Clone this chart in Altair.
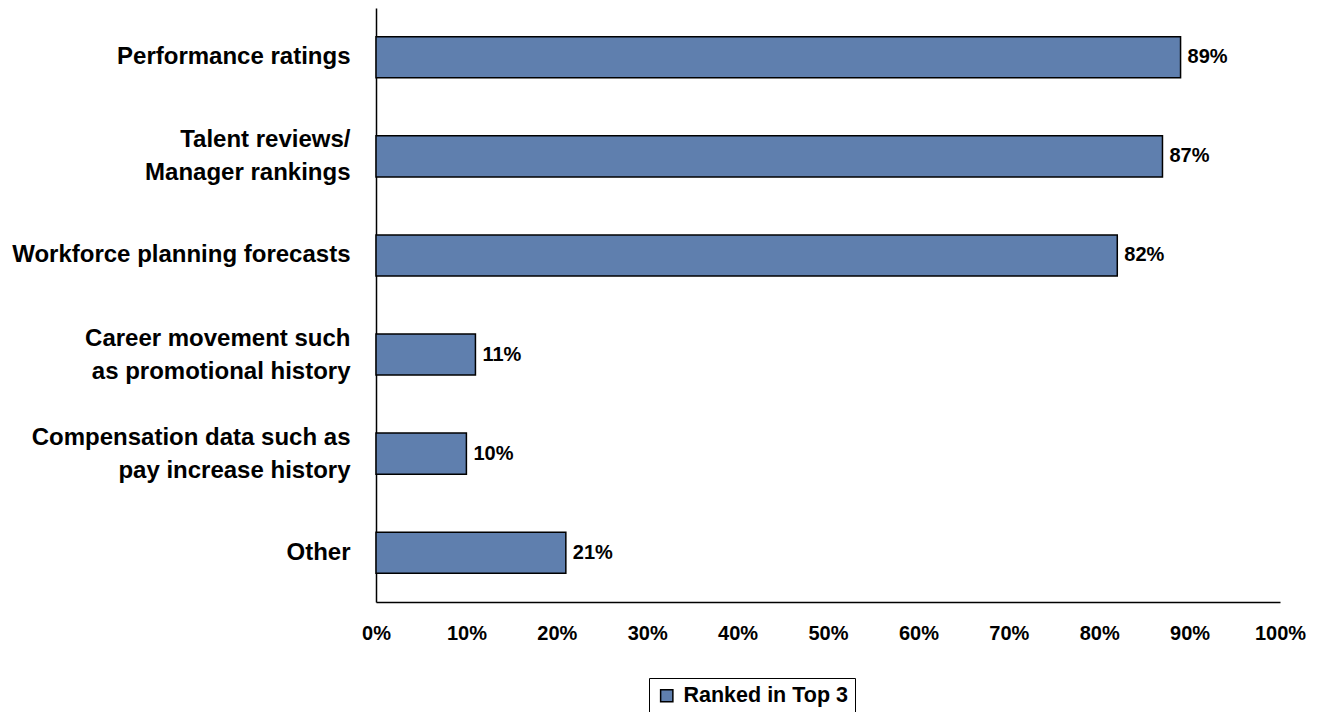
import altair as alt
import pandas as pd

categories = [
    "Performance ratings",
    "Talent reviews/|Manager rankings",
    "Workforce planning forecasts",
    "Career movement such|as promotional history",
    "Compensation data such as|pay increase history",
    "Other",
]
values = [0.89, 0.87, 0.82, 0.11, 0.10, 0.21]
labels = ["89%", "87%", "82%", "11%", "10%", "21%"]
series = ["Ranked in Top 3"] * len(categories)

df = pd.DataFrame({"cat": categories, "value": values, "label": labels, "series": series})

FONT = "Liberation Sans"
BAR = "#5f7fae"

y_enc = alt.Y(
    "cat:N",
    sort=categories,
    title=None,
    scale=alt.Scale(paddingInner=0.585, paddingOuter=0.29),
    axis=alt.Axis(
        labelExpr="split(datum.label, '|')",
        labelFont=FONT,
        labelFontSize=24,
        labelFontWeight="bold",
        labelColor="black",
        labelLineHeight=33,
        labelPadding=26,
        labelOffset={
            "condition": {"test": "indexof(datum.value, '|') >= 0", "value": -16},
            "value": 0,
        },
        ticks=False,
        domainColor="black",
        domainWidth=1.5,
        labelLimit=400,
    ),
)

bars = alt.Chart(df).mark_bar(stroke="black", strokeWidth=1.5).encode(
    x=alt.X(
        "value:Q",
        title=None,
        scale=alt.Scale(domain=[0, 1], nice=False),
        axis=alt.Axis(
            format=".0%",
            values=[i / 10 for i in range(11)],
            labelFont=FONT,
            labelFontSize=20,
            labelFontWeight="bold",
            labelColor="black",
            labelPadding=21,
            ticks=False,
            grid=False,
            domainColor="black",
            domainWidth=1.5,
            labelFlush=False,
        ),
    ),
    y=y_enc,
    color=alt.Color(
        "series:N",
        scale=alt.Scale(range=[BAR]),
        legend=alt.Legend(
            title=None,
            orient="none",
            legendX=273,
            legendY=670,
            symbolType="square",
            symbolSize=150,
            symbolStrokeColor="black",
            symbolStrokeWidth=1.5,
            symbolFillColor=BAR,
            labelFont=FONT,
            labelFontSize=21.5,
            labelFontWeight="bold",
            labelColor="black",
            labelLimit=400,
            strokeColor="black",
            padding=7,
            labelOffset=6,
        ),
    ),
)

text = alt.Chart(df).mark_text(
    align="left", baseline="middle", dx=7, font=FONT, fontSize=20, fontWeight="bold", color="black"
).encode(
    x="value:Q",
    y=alt.Y("cat:N", sort=categories),
    text="label:N",
)

chart = (
    alt.layer(bars, text)
    .properties(
        width=904,
        height=594,
        autosize=alt.AutoSizeParams(type="none"),
        padding={"left": 368, "top": 0, "right": 37, "bottom": 110},
    )
    .configure_view(stroke=None)
    .configure_axis(grid=False)
)

chart.save("out.html", embed_options={"renderer": "svg", "actions": False})
